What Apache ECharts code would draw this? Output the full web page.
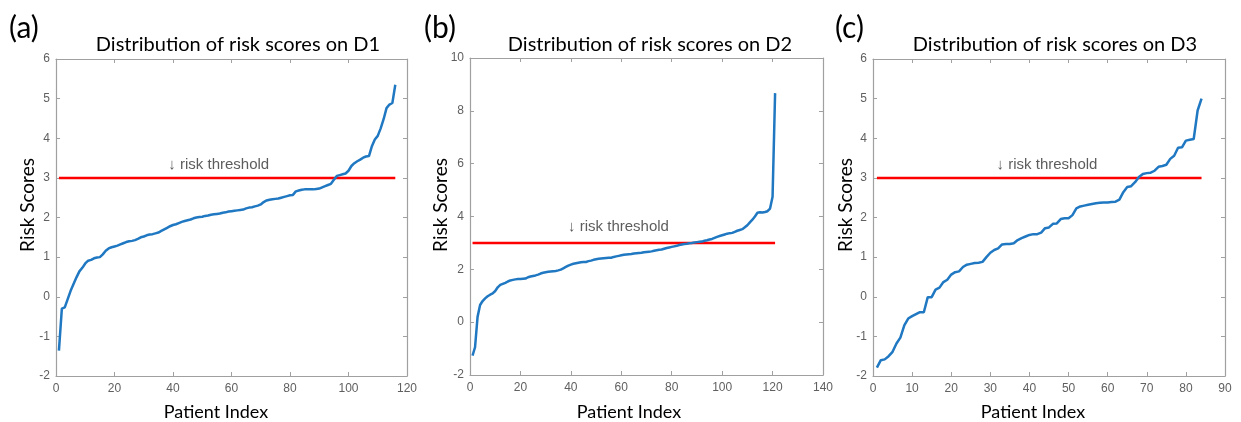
<!DOCTYPE html>
<html>
<head>
<meta charset="utf-8">
<script src="https://cdn.jsdelivr.net/npm/echarts@6/dist/echarts.min.js"></script>
<style>
html,body{margin:0;padding:0;background:#fff;}
#chart{width:1241px;height:422px;}
</style>
</head>
<body>
<div id="chart"></div>
<script>
// ---- Data ----
const panelLabels = ['(a)', '(b)', '(c)'];
const titles = ['Distribution of risk scores on D1', 'Distribution of risk scores on D2', 'Distribution of risk scores on D3'];
const xAxisName = 'Patient Index';
const yAxisName = 'Risk Scores';
const thresholdValue = 3;
const thresholdLabel = '\u2193 risk threshold';

const scoresD1 = [
  -1.36, -0.30, -0.27, -0.06, 0.15, 0.32, 0.49, 0.64, 0.73, 0.84,
  0.91, 0.93, 0.97, 0.99, 1.00, 1.07, 1.16, 1.22, 1.25, 1.27,
  1.29, 1.32, 1.35, 1.38, 1.40, 1.41, 1.43, 1.46, 1.50, 1.52,
  1.55, 1.57, 1.58, 1.60, 1.62, 1.66, 1.70, 1.74, 1.78, 1.81,
  1.83, 1.86, 1.89, 1.91, 1.93, 1.95, 1.98, 2.00, 2.01, 2.02,
  2.04, 2.05, 2.07, 2.08, 2.09, 2.10, 2.12, 2.13, 2.15, 2.16,
  2.17, 2.18, 2.19, 2.20, 2.23, 2.25, 2.26, 2.28, 2.30, 2.33,
  2.39, 2.43, 2.45, 2.46, 2.47, 2.48, 2.50, 2.52, 2.54, 2.56,
  2.57, 2.66, 2.68, 2.70, 2.71, 2.71, 2.71, 2.71, 2.72, 2.73,
  2.76, 2.79, 2.82, 2.85, 2.95, 3.05, 3.07, 3.09, 3.11, 3.18,
  3.30, 3.37, 3.42, 3.46, 3.51, 3.54, 3.55, 3.80, 3.97, 4.06,
  4.25, 4.48, 4.76, 4.85, 4.89, 5.35
];
const scoresD2 = [
  -1.27, -0.95, 0.20, 0.65, 0.80, 0.90, 0.98, 1.04, 1.09, 1.18,
  1.32, 1.41, 1.45, 1.49, 1.54, 1.58, 1.60, 1.62, 1.63, 1.63,
  1.64, 1.65, 1.70, 1.73, 1.75, 1.77, 1.80, 1.84, 1.87, 1.89,
  1.91, 1.92, 1.93, 1.94, 1.96, 1.99, 2.04, 2.09, 2.14, 2.18,
  2.21, 2.23, 2.25, 2.27, 2.28, 2.28, 2.31, 2.33, 2.36, 2.38,
  2.40, 2.41, 2.42, 2.43, 2.44, 2.44, 2.47, 2.49, 2.51, 2.53,
  2.55, 2.56, 2.57, 2.58, 2.60, 2.61, 2.62, 2.63, 2.65, 2.66,
  2.67, 2.68, 2.70, 2.72, 2.74, 2.75, 2.78, 2.81, 2.83, 2.85,
  2.87, 2.89, 2.92, 2.94, 2.96, 2.97, 2.99, 3.00, 3.02, 3.03,
  3.04, 3.05, 3.08, 3.10, 3.13, 3.15, 3.19, 3.23, 3.26, 3.29,
  3.32, 3.35, 3.37, 3.38, 3.42, 3.46, 3.49, 3.52, 3.59, 3.67,
  3.78, 3.88, 4.00, 4.14, 4.16, 4.15, 4.17, 4.20, 4.30, 4.75,
  8.67
];
const scoresD3 = [
  -1.79, -1.60, -1.58, -1.50, -1.39, -1.18, -1.03, -0.72, -0.55, -0.49,
  -0.44, -0.39, -0.39, -0.01, -0.01, 0.18, 0.23, 0.37, 0.43, 0.56,
  0.62, 0.64, 0.75, 0.81, 0.83, 0.85, 0.86, 0.88, 1.00, 1.11,
  1.18, 1.22, 1.32, 1.33, 1.33, 1.35, 1.43, 1.48, 1.52, 1.56,
  1.58, 1.58, 1.62, 1.73, 1.75, 1.84, 1.85, 1.96, 1.98, 1.98,
  2.06, 2.23, 2.28, 2.30, 2.32, 2.34, 2.36, 2.37, 2.38, 2.38,
  2.39, 2.40, 2.45, 2.64, 2.77, 2.79, 2.89, 3.02, 3.10, 3.12,
  3.13, 3.18, 3.28, 3.30, 3.33, 3.48, 3.56, 3.76, 3.77, 3.94,
  3.96, 3.98, 4.70, 5.00
];
// axis ranges [min, max, interval]
const xRanges = [[0, 120, 20], [0, 140, 20], [0, 90, 10]];
const yRanges = [[-2, 6, 1], [-2, 10, 2], [-2, 6, 1]];
// annotation anchor (data coords: left edge of text, vertical centre)
const annotAnchors = [[38.4, 3.34], [38.9, 3.62], [31.6, 3.34]];

const allScores = [scoresD1, scoresD2, scoresD3];

// ---- Layout (pixels) ----
const grids = [
  {left: 56, top: 59, width: 351, height: 317},
  {left: 470, top: 58, width: 353, height: 317},
  {left: 873, top: 59, width: 352, height: 317}
];
const labelPos = [[9, 30], [424, 30], [835, 30]];
const titleCx = [238, 650, 1055];
const xNameCx = [216, 629, 1033];
const yNameCx = [28, 441, 846];

const axisGray = '#a0a0a0';
const tickLabelColor = '#606060';
const titleFont = 'Lato, "Open Sans", sans-serif';

const xAxes = [], yAxes = [], series = [], graphics = [];
for (let p = 0; p < 3; p++) {
  const [xmin, xmax, xi] = xRanges[p];
  const [ymin, ymax, yi] = yRanges[p];
  const common = {
    gridIndex: p,
    type: 'value',
    axisLine: {show: true, onZero: false, lineStyle: {color: axisGray, width: 1.2}},
    axisTick: {show: true, inside: true, length: 4, lineStyle: {color: axisGray}},
    splitLine: {show: false}
  };
  xAxes.push(Object.assign({}, common, {
    position: 'bottom', min: xmin, max: xmax, interval: xi,
    axisLabel: {color: tickLabelColor, fontSize: 12, fontFamily: 'Arial, "Liberation Sans", sans-serif', margin: 7}
  }));
  xAxes.push(Object.assign({}, common, {
    position: 'top', min: xmin, max: xmax, interval: xi, axisLabel: {show: false}
  }));
  yAxes.push(Object.assign({}, common, {
    position: 'left', min: ymin, max: ymax, interval: yi,
    axisLabel: {color: tickLabelColor, fontSize: 12, fontFamily: 'Arial, "Liberation Sans", sans-serif', margin: 6}
  }));
  yAxes.push(Object.assign({}, common, {
    position: 'right', min: ymin, max: ymax, interval: yi, axisLabel: {show: false}
  }));

  const sc = allScores[p];
  series.push({
    type: 'line', xAxisIndex: 2 * p, yAxisIndex: 2 * p,
    data: [[1, thresholdValue], [sc.length, thresholdValue]],
    symbol: 'none', lineStyle: {color: '#ff0000', width: 2.5}, z: 2, silent: true
  });
  series.push({
    type: 'line', xAxisIndex: 2 * p, yAxisIndex: 2 * p,
    data: sc.map((v, i) => [i + 1, v]),
    symbol: 'none', lineStyle: {color: '#1f78c1', width: 2.5}, z: 3, silent: true
  });
  series.push({
    type: 'scatter', xAxisIndex: 2 * p, yAxisIndex: 2 * p,
    data: [annotAnchors[p]], symbolSize: 0, silent: true,
    label: {show: true, position: 'right', distance: 0, formatter: thresholdLabel,
      color: '#333333', fontSize: 15, fontFamily: 'Arial, "Liberation Sans", sans-serif'}
  });

  graphics.push({type: 'text', left: labelPos[p][0], top: labelPos[p][1] - 17,
    style: {text: panelLabels[p], fontSize: 30, fontFamily: titleFont, fill: '#000'}});
  graphics.push({type: 'text', x: titleCx[p], y: 45,
    style: {text: titles[p], fontSize: 20, fontFamily: titleFont, fill: '#000', textAlign: 'center', textVerticalAlign: 'middle'}});
  graphics.push({type: 'text', x: xNameCx[p], y: 412,
    style: {text: xAxisName, fontSize: 18, fontFamily: titleFont, fill: '#000', textAlign: 'center', textVerticalAlign: 'middle'}});
  graphics.push({type: 'text', x: yNameCx[p], y: 205, rotation: Math.PI / 2,
    style: {text: yAxisName, fontSize: 19, fontFamily: titleFont, fill: '#000', textAlign: 'center', textVerticalAlign: 'middle'}});
}

const chart = echarts.init(document.getElementById('chart'), null, {renderer: 'canvas'});
chart.setOption({
  animation: false,
  backgroundColor: '#ffffff',
  grid: grids,
  xAxis: xAxes,
  yAxis: yAxes,
  series: series,
  graphic: graphics
});
</script>
</body>
</html>
